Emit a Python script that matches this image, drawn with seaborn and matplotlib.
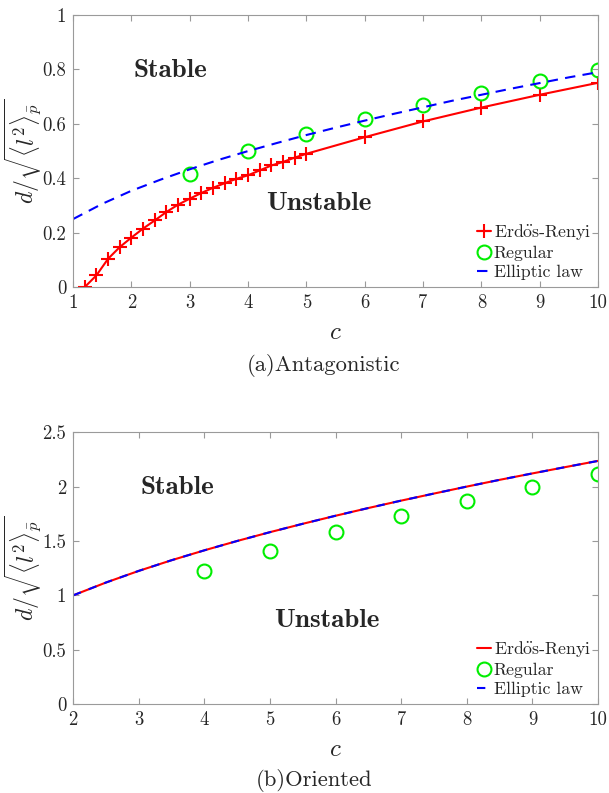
import numpy as np
import pandas as pd
import matplotlib
matplotlib.use('Agg')
import matplotlib.pyplot as plt
import seaborn as sns
from matplotlib.ticker import FormatStrFormatter, MultipleLocator

# (a) Antagonistic
er_c_a = [1.2, 1.4, 1.6, 1.8, 2.0, 2.2, 2.4, 2.6, 2.8, 3.0, 3.2, 3.4, 3.6, 3.8,
          4.0, 4.2, 4.4, 4.6, 4.8, 5.0, 6, 7, 8, 9, 10]
er_d_a = [0.0, 0.043, 0.104, 0.147, 0.182, 0.215, 0.245, 0.276, 0.303, 0.325,
          0.346, 0.365, 0.382, 0.398, 0.411, 0.429, 0.447, 0.46, 0.476, 0.49,
          0.551, 0.609, 0.66, 0.707, 0.751]
reg_c_a = [3, 4, 5, 6, 7, 8, 9, 10]
reg_d_a = [0.414, 0.502, 0.564, 0.619, 0.671, 0.715, 0.756, 0.799]
ell_c_a = [1, 1.5, 2, 2.5, 3, 3.5, 4, 4.5, 5, 5.5, 6, 6.5, 7, 7.5, 8, 8.5, 9,
           9.5, 10]
ell_d_a = [0.25, 0.306, 0.354, 0.395, 0.433, 0.468, 0.5, 0.53, 0.559, 0.586,
           0.612, 0.637, 0.661, 0.685, 0.707, 0.729, 0.75, 0.771, 0.79]

# (b) Oriented
er_c_b = [2, 2.5, 3, 3.5, 4, 4.5, 5, 5.5, 6, 6.5, 7, 7.5, 8, 8.5, 9, 9.5, 10]
er_d_b = [1.0, 1.118, 1.225, 1.323, 1.414, 1.5, 1.581, 1.658, 1.732, 1.803,
          1.871, 1.936, 2.0, 2.062, 2.121, 2.179, 2.236]
reg_c_b = [4, 5, 6, 7, 8, 9, 10]
reg_d_b = [1.22, 1.41, 1.58, 1.73, 1.87, 2.0, 2.12]
ell_c_b = er_c_b
ell_d_b = er_d_b

sns.set_style("ticks")
plt.rcParams['font.family'] = ['cmr10', 'DejaVu Serif']
plt.rcParams['mathtext.fontset'] = 'cm'
plt.rcParams['axes.formatter.use_mathtext'] = True
plt.rcParams['axes.unicode_minus'] = False

GRAY = '#9a9a9a'
TXT = '#262626'
ylab = r'$d/\sqrt{\langle l^2\rangle_{\bar{p}}}$'
er_lab = r'Erd$\ddot{\mathrm{o}}$s-Renyi'

fig = plt.figure(figsize=(6.09, 7.93), dpi=100)
ax1 = fig.add_axes([0.120, 0.638, 0.862, 0.343])
ax2 = fig.add_axes([0.120, 0.112, 0.862, 0.343])


def style(ax, xlim, ylim, ystep):
    ax.set_xlim(*xlim)
    ax.set_ylim(*ylim)
    ax.xaxis.set_major_locator(MultipleLocator(1))
    ax.yaxis.set_major_locator(MultipleLocator(ystep))
    ax.xaxis.set_major_formatter(FormatStrFormatter('%g'))
    ax.yaxis.set_major_formatter(FormatStrFormatter('%g'))
    ax.tick_params(direction='in', length=4, width=0.8, color=GRAY,
                   labelcolor=TXT, labelsize=13.5, top=True, right=True, pad=5)
    for s in ax.spines.values():
        s.set_color(GRAY)
        s.set_linewidth(0.8)
        s.set_visible(True)
    ax.set_xlabel('$c$', fontsize=18, color=TXT, labelpad=7)
    ax.set_ylabel(ylab, fontsize=17, color=TXT)
    ax.yaxis.set_label_coords(-0.056, 0.5)


# top panel
sns.lineplot(x=er_c_a, y=er_d_a, ax=ax1, color='red', lw=1.5, marker='+',
             markersize=10, markeredgewidth=1.5, markeredgecolor='red',
             label=er_lab)
sns.lineplot(x=reg_c_a, y=reg_d_a, ax=ax1, color='#00ee00', linestyle='',
             marker='o', markersize=10, markerfacecolor='none',
             markeredgecolor='#00ee00', markeredgewidth=1.5, label='Regular')
sns.lineplot(x=ell_c_a, y=ell_d_a, ax=ax1, color='blue', lw=1.5,
             dashes=(5, 3.5), label='Elliptic law')
style(ax1, (1, 10), (0, 1), 0.2)
ax1.text(2.66, 0.797, 'Stable', family='cmb10', fontsize=19.5, color=TXT,
         ha='center', va='center')
ax1.text(5.22, 0.308, 'Unstable', family='cmb10', fontsize=19.5, color=TXT,
         ha='center', va='center')

# bottom panel
sns.lineplot(x=er_c_b, y=er_d_b, ax=ax2, color='red', lw=1.5, label=er_lab)
sns.lineplot(x=reg_c_b, y=reg_d_b, ax=ax2, color='#00ee00', linestyle='',
             marker='o', markersize=10, markerfacecolor='none',
             markeredgecolor='#00ee00', markeredgewidth=1.5, label='Regular')
sns.lineplot(x=ell_c_b, y=ell_d_b, ax=ax2, color='blue', lw=1.5,
             dashes=(4, 4), label='Elliptic law')
style(ax2, (2, 10), (0, 2.5), 0.5)
ax2.text(3.59, 1.99, 'Stable', family='cmb10', fontsize=19.5, color=TXT,
         ha='center', va='center')
ax2.text(5.87, 0.77, 'Unstable', family='cmb10', fontsize=19.5, color=TXT,
         ha='center', va='center')

for ax in (ax1, ax2):
    ax.legend(loc='lower right', frameon=False, fontsize=12.8,
              handlelength=0.8, handletextpad=0.15, labelspacing=0.2,
              borderaxespad=0.2, borderpad=0.2)

fig.text(0.531, 0.539, '(a)Antagonistic', fontsize=16.3, color=TXT,
         ha='center', va='center')
fig.text(0.516, 0.016, '(b)Oriented', fontsize=16.3, color=TXT,
         ha='center', va='center')

fig.savefig('out.png', dpi=100)
